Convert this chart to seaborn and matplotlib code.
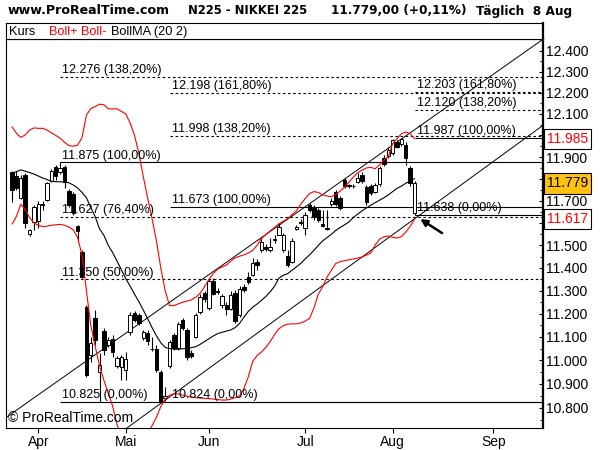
import numpy as np
import pandas as pd
import matplotlib
matplotlib.use("Agg")
import matplotlib.pyplot as plt
import matplotlib.ticker as mticker
import seaborn as sns

sns.set_style("white")
plt.rcParams['font.family'] = ['Liberation Sans', 'DejaVu Sans']

# ---------------- data (trading-day index, prices) ----------------
day_idx = list(range(2, 95))
opens = [11832, 11813, 11713, 11818, 11551, 11605, 11609, 11680, 11704, 11790,
         11855, 11832, 11855, 11745, 11731, 11587, 11471, 11228, 11023, 11182,
         10950, 11125, 11066, 11091, 10976, 10972, 10959, 11121, 11203, 11194,
         11095, 11117, 11050, 11048, 10950, 10840, 10976, 11108, 11053, 11173,
         11130, 11031, 11100, 11209, 11290, 11226, 11343, 11300, 11240, 11240,
         11222, 11292, 11196, 11318, 11360, 11370, 11427, 11480, 11493, 11480,
         11525, 11546, 11480, 11453, 11427, 11573, 11600, 11578, 11681, 11668,
         11659, 11596, 11578, 11686, 11740, 11713, 11795, 11770, 11768, 11786,
         11818, 11763, 11768, 11740, 11777, 11896, 11905, 11918, 11968, 11960,
         11954, 11850, 11645]
highs = [11836, 11836, 11818, 11827, 11573, 11681, 11700, 11700, 11786, 11845,
         11864, 11875, 11864, 11754, 11740, 11591, 11480, 11236, 11100, 11216,
         11031, 11138, 11100, 11108, 11018, 11023, 11036, 11207, 11211, 11203,
         11130, 11130, 11100, 11065, 10960, 10885, 11087, 11117, 11164, 11183,
         11138, 11044, 11205, 11287, 11300, 11352, 11355, 11310, 11287, 11250,
         11300, 11304, 11322, 11330, 11382, 11445, 11440, 11533, 11506, 11533,
         11545, 11600, 11555, 11480, 11533, 11591, 11620, 11650, 11690, 11681,
         11668, 11659, 11659, 11713, 11750, 11722, 11804, 11775, 11775, 11827,
         11832, 11772, 11777, 11781, 11859, 11910, 11945, 11985, 11980, 11987,
         11968, 11859, 11790]
lows = [11695, 11750, 11709, 11578, 11542, 11569, 11578, 11660, 11700, 11786,
        11795, 11823, 11759, 11672, 11636, 11515, 11356, 10929, 10993, 11066,
        10825, 11023, 11057, 11014, 10967, 10916, 10916, 11108, 11164, 11151,
        11087, 11066, 11039, 10950, 10824, 10830, 10967, 11044, 11044, 11130,
        11001, 11010, 11095, 11200, 11250, 11218, 11280, 11285, 11225, 11196,
        11215, 11161, 11185, 11295, 11330, 11365, 11391, 11471, 11476, 11471,
        11510, 11546, 11471, 11404, 11422, 11569, 11590, 11546, 11650, 11614,
        11605, 11582, 11569, 11677, 11677, 11659, 11759, 11760, 11760, 11781,
        11781, 11681, 11727, 11736, 11768, 11859, 11896, 11910, 11940, 11950,
        11864, 11768, 11638]
closes = [11750, 11759, 11804, 11600, 11569, 11672, 11686, 11686, 11781, 11836,
          11813, 11850, 11786, 11681, 11645, 11564, 11361, 10938, 11074, 11087,
          10980, 11044, 11087, 11035, 11010, 11014, 11006, 11194, 11173, 11160,
          11121, 11083, 11047, 10960, 10830, 10850, 11078, 11053, 11155, 11138,
          11014, 11018, 11196, 11274, 11262, 11343, 11287, 11296, 11278, 11220,
          11283, 11170, 11309, 11305, 11340, 11422, 11413, 11515, 11484, 11493,
          11530, 11582, 11546, 11413, 11520, 11582, 11605, 11636, 11659, 11627,
          11614, 11587, 11573, 11700, 11686, 11668, 11768, 11768, 11766, 11804,
          11790, 11695, 11736, 11772, 11850, 11868, 11931, 11978, 11945, 11982,
          11896, 11781, 11779]

boll_upper = [12040, 12010, 11991, 12002, 12025, 12035, 12033, 12033, 12025, 12012,
              12000, 11987, 11968, 11953, 11950, 11955, 11990, 12095, 12125, 12135,
              12146, 12143, 12124, 12124, 12124, 12112, 12100, 12057, 12000, 11915,
              11810, 11712, 11620, 11520, 11400, 11300, 11235, 11235, 11243, 11250,
              11255, 11260, 11272, 11289, 11318, 11350, 11375, 11395, 11405, 11413,
              11430, 11445, 11452, 11458, 11466, 11478, 11500, 11530, 11548, 11565,
              11580, 11597, 11608, 11620, 11638, 11655, 11685, 11710, 11733, 11742,
              11738, 11727, 11722, 11719, 11728, 11745, 11762, 11785, 11808, 11828,
              11840, 11850, 11853, 11846, 11865, 11885, 11902, 11962, 11985, 12008,
              12016, 12008, 11985]
boll_lower = [11595, 11630, 11685, 11660, 11625, 11600, 11590, 11584, 11586, 11590,
              11592, 11594, 11590, 11582, 11569, 11535, 11455, 11300, 11150, 11060,
              10975, 10915, 10860, 10806, 10730, 10680, 10640, 10610, 10600, 10615,
              10650, 10690, 10725, 10760, 10805, 10835, 10852, 10858, 10858, 10853,
              10848, 10845, 10842, 10840, 10839, 10838, 10836, 10834, 10832, 10832,
              10836, 10842, 10850, 10880, 10930, 10995, 11020, 11035, 11055, 11080,
              11110, 11135, 11148, 11155, 11156, 11156, 11160, 11168, 11180, 11225,
              11285, 11318, 11360, 11390, 11420, 11428, 11432, 11436, 11440, 11444,
              11448, 11457, 11466, 11502, 11528, 11538, 11542, 11536, 11533, 11539,
              11560, 11585, 11617]
boll_ma = [11826, 11833, 11841, 11835, 11829, 11822, 11813, 11804, 11797, 11789,
           11787, 11787, 11785, 11782, 11772, 11758, 11738, 11714, 11670, 11629,
           11574, 11545, 11500, 11468, 11430, 11392, 11353, 11320, 11285, 11252,
           11216, 11178, 11140, 11105, 11075, 11055, 11050, 11048, 11047, 11049,
           11051, 11054, 11058, 11068, 11080, 11092, 11104, 11114, 11120, 11125,
           11130, 11140, 11158, 11185, 11210, 11228, 11242, 11258, 11275, 11295,
           11320, 11355, 11368, 11375, 11390, 11405, 11420, 11440, 11458, 11478,
           11500, 11520, 11535, 11550, 11567, 11580, 11592, 11605, 11625, 11640,
           11655, 11668, 11680, 11692, 11703, 11714, 11727, 11742, 11757, 11767,
           11780, 11790, 11801]

month_pos = [8, 28, 47, 69, 89, 112]
month_labels = ["Apr", "Mai", "Jun", "Jul", "Aug", "Sep"]

y_tick_values = list(range(10800, 12401, 100))
hidden_tick_values = [11600, 11800, 12000]

# Fibonacci sets: start index, levels, labels, solid?
fib_start = [13, 13, 13, 13, 13, 38, 38, 38, 38, 94, 94, 94, 94]
fib_level = [12276, 11875, 11627, 11350, 10825, 12198, 11998, 11673, 10824,
             12203, 12120, 11987, 11638]
fib_text = ["12.276 (138,20%)", "11.875 (100,00%)", "11.627 (76,40%)", "11.350 (50,00%)",
            "10.825 (0,00%)", "12.198 (161,80%)", "11.998 (138,20%)", "11.673 (100,00%)",
            "10.824 (0,00%)", "12.203 (161,80%)", "12.120 (138,20%)", "11.987 (100,00%)",
            "11.638 (0,00%)"]
fib_solid = [False, True, False, False, True, False, False, True, True,
             False, False, True, True]

# trend channel lines (start/end in index, price)
trend1_x = [0.55, 123.43]
trend1_y = [10758, 12456]
trend2_x = [28.3, 123.43]
trend2_y = [10716, 12048]

arrow_tip = (95.3, 11618)
arrow_tail = (100.3, 11555)

last_price = 11779
boll_up_last = 11985
boll_low_last = 11617

title_parts = ["www.ProRealTime.com", "N225 - NIKKEI 225", "11.779,00 (+0,11%)", "Täglich  8 Aug"]

# ---------------- figure ----------------
W, H = 600, 450
fig = plt.figure(figsize=(6, 4.5), dpi=100)
L, R, T, B = 5.7, 543.3, 39.3, 427.7
ax = fig.add_axes([L / W, 1 - B / H, (R - L) / W, (B - T) / H])
hdr = fig.add_axes([L / W, 1 - T / H, (R - L) / W, (T - 23.3) / H])

xmin, xmax = 0.55, 123.43
ax.set_yscale('log')

# fib lines
for s, lv, txt, solid in zip(fib_start, fib_level, fib_text, fib_solid):
    if solid:
        ax.hlines(lv, s, xmax, color='black', lw=0.8, zorder=1)
    else:
        ax.hlines(lv, s, xmax, color='black', lw=0.8, linestyles=(0, (2.3, 2.3)), zorder=1)
    ax.annotate(txt, (s, lv), xytext=(1.5, 0.6), textcoords='offset points',
                fontsize=9, ha='left', va='bottom', color='black', zorder=6)

# trend lines
ax.plot(trend1_x, trend1_y, color='black', lw=0.7, zorder=2)
ax.plot(trend2_x, trend2_y, color='black', lw=0.7, zorder=2)

# Bollinger via seaborn
bands = pd.DataFrame({'day': day_idx * 3,
                      'value': boll_upper + boll_lower + boll_ma,
                      'band': ['upper'] * len(day_idx) + ['lower'] * len(day_idx) + ['ma'] * len(day_idx)})
sns.lineplot(data=bands, x='day', y='value', hue='band', units='band', estimator=None,
             palette={'upper': 'red', 'lower': 'red', 'ma': 'black'},
             legend=False, lw=0.8, ax=ax, zorder=5)

# candles
o = np.array(opens, float); c = np.array(closes, float)
hi = np.array(highs, float); lo = np.array(lows, float)
up = c >= o
ax.vlines(day_idx, lo, hi, color='black', lw=0.8, zorder=3)
body_bottom = np.minimum(o, c)
body_h = np.maximum(np.abs(c - o), 3.0)
ax.bar(day_idx, body_h, bottom=body_bottom, width=0.78,
       color=np.where(up, 'white', 'black'), edgecolor='black', linewidth=0.7, zorder=4)

ax.set_xlim(xmin, xmax)
ax.set_ylim(10716.7, 12454.8)

# y axis (right)
ax.yaxis.tick_right()
ax.yaxis.set_major_locator(mticker.FixedLocator(y_tick_values))
ax.yaxis.set_major_formatter(mticker.FixedFormatter(
    ["" if v in hidden_tick_values else f"{v:,}".replace(",", ".") for v in y_tick_values]))
ax.yaxis.set_minor_locator(mticker.FixedLocator([v + 50 for v in range(10700, 12401, 100)]))
ax.yaxis.set_minor_formatter(mticker.NullFormatter())
ax.tick_params(axis='y', which='major', direction='in', length=3, width=0.8, pad=2,
               labelsize=10, colors='black', right=True, left=False)
ax.tick_params(axis='y', which='minor', direction='in', length=2.5, width=0.8,
               right=True, left=False)
ax.set_ylabel("")

# x axis
ax.set_xticks(month_pos)
ax.set_xticklabels(month_labels)
ax.xaxis.set_minor_locator(mticker.NullLocator())
ax.tick_params(axis='x', direction='out', length=3.5, width=0.8, pad=1.5, labelsize=10,
               bottom=True, colors='black')
ax.set_xlabel("")

for name, sp in ax.spines.items():
    sp.set_visible(True)
    sp.set_color('black')
    sp.set_linewidth(0.8)
ax.spines['right'].set_linewidth(1.6)

# value boxes on right axis
box_kw = dict(xycoords=('axes fraction', 'data'), xytext=(2.5, 0), textcoords='offset points',
              ha='left', va='center', fontsize=10, annotation_clip=False, zorder=10)
ax.annotate(f"{boll_up_last:,}".replace(",", "."), xy=(1, boll_up_last), color='red',
            bbox=dict(boxstyle='square,pad=0.22', fc='white', ec='black', lw=0.8), **box_kw)
ax.annotate(f"{last_price:,}".replace(",", "."), xy=(1, last_price), color='black',
            bbox=dict(boxstyle='square,pad=0.22', fc='#FFC20E', ec='black', lw=0.8), **box_kw)
ax.annotate(f"{boll_low_last:,}".replace(",", "."), xy=(1, boll_low_last), color='red',
            bbox=dict(boxstyle='square,pad=0.22', fc='white', ec='black', lw=0.8), **box_kw)

# arrow
ax.annotate('', xy=arrow_tip, xytext=arrow_tail,
            arrowprops=dict(arrowstyle='-|>', color='black', lw=1.8, mutation_scale=10,
                            shrinkA=0, shrinkB=0), zorder=8)

# watermark
ax.text(0.004, 0.025, "© ProRealTime.com", transform=ax.transAxes, fontsize=10,
        ha='left', va='center', color='black', zorder=9)

# header strip
hdr.set_xlim(0, 1); hdr.set_ylim(0, 1)
hdr.set_xticks([]); hdr.set_yticks([])
for name, sp in hdr.spines.items():
    sp.set_visible(True); sp.set_color('black'); sp.set_linewidth(0.8)
hdr.spines['right'].set_linewidth(1.6)
hdr.text((9.3 - L) / (R - L), 0.45, "Kurs", fontsize=9.2, va='center', ha='left', color='black')
hdr.text((49 - L) / (R - L), 0.45, "Boll+ Boll-", fontsize=9.2, va='center', ha='left', color='red')
hdr.text((111 - L) / (R - L), 0.45, "BollMA (20 2)", fontsize=9.2, va='center', ha='left', color='black')

# title
ty = 1 - 11 / H
for x, s, fs in zip([8, 188, 331, 476], title_parts, [9.1, 8.4, 8.7, 8.7]):
    fig.text(x / W, ty, s, fontsize=fs, fontweight='bold', ha='left', va='center',
             color='black', family=['DejaVu Sans'])

fig.savefig("out.png", dpi=100, facecolor='white')
